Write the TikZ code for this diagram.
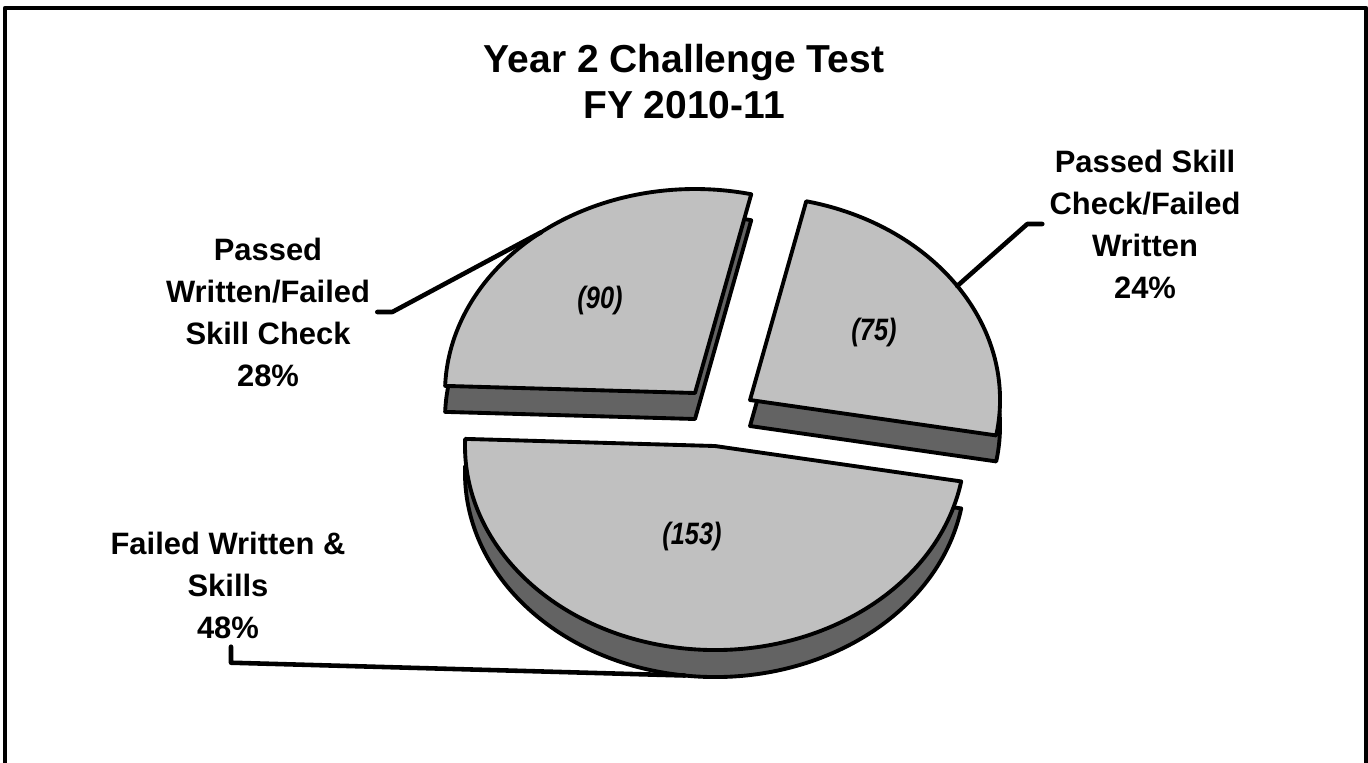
\documentclass[tikz,border=0pt]{standalone}
\usepackage{fontspec}
\setmainfont{Liberation Sans}
\newfontfamily\narrowfont[FakeStretch=0.82]{Liberation Sans}
\usetikzlibrary{calc}
\definecolor{topgray}{RGB}{192,192,192}
\definecolor{sidegray}{RGB}{99,99,99}
\begin{document}
\begin{tikzpicture}[x=0.02cm, y=-0.02cm, line join=round, ell/.style={x radius=250, y radius=204},
	face/.style={draw, line width=2.2pt, fill=topgray, ell},
	side/.style={draw, line width=2.2pt, fill=sidegray, ell},
	title/.style={font=\bfseries\fontsize{22.2}{26.2}\selectfont, align=center, inner sep=0pt},
	lbl/.style={font=\bfseries\fontsize{17.6}{23.9}\selectfont, align=center, inner sep=0pt},
	val/.style={font=\narrowfont\bfseries\itshape\fontsize{17.6}{20}\selectfont, inner sep=0pt},
	leader/.style={draw, line width=2.6pt, line cap=round}]
	\useasboundingbox (0,0) rectangle (1368,762);
	\draw[line width=2.6pt] (5,780) -- (5,8) -- (1366,8) -- (1366,780);
	\coordinate (ul) at (695,393);
	\coordinate (ur) at (750,400);
	\coordinate (bs) at (715,446);
	\draw[side] ($(ul)+(0,26)$) -- ++(182:250 and 204) arc[start angle=182, end angle=283] -- cycle;
	\draw[face] (ul) -- ++(182:250 and 204) arc[start angle=182, end angle=283] -- cycle;
	\draw[side] ($(ur)+(0,26)$) -- ++(283:250 and 204) arc[start angle=283, end angle=370] -- cycle;
	\draw[face] (ur) -- ++(283:250 and 204) arc[start angle=283, end angle=370] -- cycle;
	\draw[side] ($(bs)+(0,27)$) -- ++(10:250 and 204) arc[start angle=10, end angle=182] -- cycle;
	\draw[face] (bs) -- ++(10:250 and 204) arc[start angle=10, end angle=182] -- cycle;
	\path (ul) ++(232:250 and 204) coordinate (ulp);
	\path (ur) ++(326:250 and 204) coordinate (urp);
	\path (bs) ++(97:250 and 204) ++(0,27) coordinate (bsp);
	\node[val] (v90) at (600,300) {(90)};
	\node[val] (v75) at (874,332) {(75)};
	\node[val] (v153) at (692,536) {(153)};
	\node[title] (head) at (684,82) {Year 2 Challenge Test\\FY 2010-11};
	\node[lbl] (lul) at (268,312) {Passed\\Written/Failed\\Skill Check\\28\%};
	\node[lbl] (lur) at (1145,224) {Passed Skill\\Check/Failed\\Written\\24\%};
	\node[lbl] (lbs) at (228,585) {Failed Written \&\\Skills\\48\%};
	\draw[leader] (lul.east) ++(7,0) -- ++(15,0) -- (ulp);
	\draw[leader] (urp) -- ($(lur.west)+(-22,0)$) -- ($(lur.west)+(-7,0)$);
	\draw[leader] ($(lbs.south)+(3,8)$) -- ++(0,16) -- (bsp);
\end{tikzpicture}
\end{document}
